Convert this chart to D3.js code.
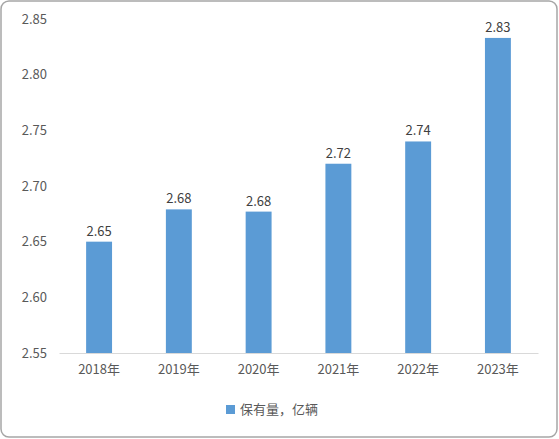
<!DOCTYPE html>
<html><head><meta charset="utf-8">
<script src="https://cdn.jsdelivr.net/npm/d3@7/dist/d3.min.js"></script>
<style>body{margin:0;background:#fff}</style></head>
<body><svg id="c" width="559" height="439"></svg>
<script>
const categories=["2018年","2019年","2020年","2021年","2022年","2023年"];
const values=[2.65,2.679,2.677,2.72,2.74,2.833];
const labels=["2.65","2.68","2.68","2.72","2.74","2.83"];
const yTicks=[2.55,2.60,2.65,2.70,2.75,2.80,2.85];
const seriesName="保有量，亿辆";
const svg=d3.select("#c");
const font="'Noto Sans CJK SC','Noto Sans',sans-serif";
svg.append("rect").attr("x",1).attr("y",1).attr("width",556).attr("height",436).attr("rx",8)
 .attr("fill","#fff").attr("stroke","#a6a6a6").attr("stroke-width",1.5);
const x=d3.scaleBand().domain(categories).range([59,538]).paddingInner(0.675).paddingOuter(0.34);
const y=d3.scaleLinear().domain([2.55,2.85]).range([353,19]);
const ya=svg.append("g").attr("transform","translate(55,0)").call(d3.axisLeft(y).tickValues(yTicks).tickFormat(d3.format(".2f")).tickSize(0).tickPadding(8));
ya.select(".domain").remove();
ya.selectAll("text").attr("font-family",font).attr("font-size",13).attr("fill","#595959");
const xa=svg.append("g").attr("transform","translate(0,353)").call(d3.axisBottom(x).tickSize(0).tickPadding(12));
xa.select(".domain").attr("stroke","#d9d9d9");
xa.selectAll("text").attr("font-family",font).attr("font-size",13).attr("fill","#595959");
svg.selectAll(".bar").data(values).join("rect").attr("fill","#5b9bd5")
 .attr("x",(d,i)=>x(categories[i])).attr("width",x.bandwidth()).attr("y",d=>y(d)).attr("height",d=>353-y(d));
svg.selectAll(".lbl").data(values).join("text").attr("font-family",font).attr("font-size",13).attr("fill","#404040")
 .attr("text-anchor","middle").attr("x",(d,i)=>x(categories[i])+x.bandwidth()/2).attr("y",d=>y(d)-6).text((d,i)=>labels[i]);
svg.append("rect").attr("x",226).attr("y",405).attr("width",9).attr("height",9).attr("fill","#5b9bd5");
svg.append("text").attr("x",240).attr("y",414).attr("font-family",font).attr("font-size",13).attr("fill","#595959").text(seriesName);
</script></body></html>
